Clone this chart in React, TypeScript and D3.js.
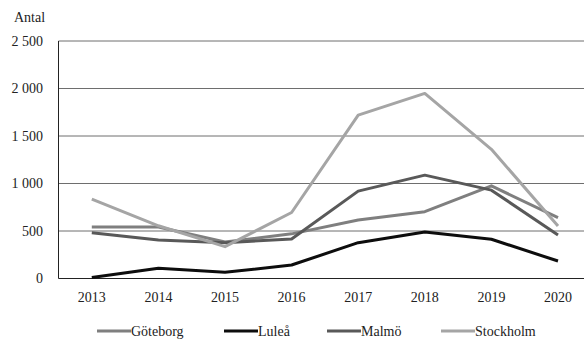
import React from "react";
import * as d3 from "d3";

const years = ["2013", "2014", "2015", "2016", "2017", "2018", "2019", "2020"];
const seriesNames = ["Göteborg", "Luleå", "Malmö", "Stockholm"];
const goteborg = [542, 542, 385, 470, 615, 703, 975, 640];
const lulea = [10, 107, 65, 142, 377, 490, 413, 184];
const malmo = [482, 405, 377, 415, 920, 1088, 930, 458];
const stockholm = [835, 555, 335, 695, 1720, 1948, 1360, 553];
const yTicks = [0, 500, 1000, 1500, 2000, 2500];
const colors = ["#7f7f7f", "#0d0d0d", "#595959", "#a5a5a5"];

const W = 584;
const H = 345;
const textStyle: React.CSSProperties = {
  fontFamily: '"Liberation Serif", "DejaVu Serif", serif',
  fontSize: 14,
  fill: "#222",
};

export default function App() {
  const data = [goteborg, lulea, malmo, stockholm];
  const left = 58.5;
  const x = d3.scaleBand<string>().domain(years).range([left, left + 8 * 66.6]);
  const y = d3.scaleLinear().domain([0, 2500]).range([278.5, 41]);
  const fmt = (v: number) => d3.format(",")(v).replace(/,/g, " ");
  const line = d3
    .line<number>()
    .x((_, i) => (x(years[i]) as number) + x.bandwidth() / 2)
    .y((v) => y(v));
  const legendX = [97, 224, 327, 441];

  return (
    <svg
      width={W}
      height={H}
      style={{ position: "absolute", left: 0, top: 0, background: "#fff" }}
    >
      <text x={14} y={22} style={textStyle}>
        Antal
      </text>
      {yTicks.map((t) => (
        <g key={t}>
          <line
            x1={left}
            x2={W}
            y1={y(t)}
            y2={y(t)}
            stroke={t === 0 ? "#222" : "#6e6e6e"}
            strokeWidth={1}
          />
          <text x={43} y={y(t) + 4.5} textAnchor="end" style={textStyle}>
            {fmt(t)}
          </text>
        </g>
      ))}
      <line x1={left} x2={left} y1={y(2500)} y2={y(0)} stroke="#222" strokeWidth={1} />
      {years.map((yr) => (
        <text
          key={yr}
          x={(x(yr) as number) + x.bandwidth() / 2}
          y={302}
          textAnchor="middle"
          style={textStyle}
        >
          {yr}
        </text>
      ))}
      {data.map((d, i) => (
        <path
          key={seriesNames[i]}
          d={line(d) as string}
          fill="none"
          stroke={colors[i]}
          strokeWidth={3}
          strokeLinejoin="round"
        />
      ))}
      {seriesNames.map((n, i) => (
        <g key={n}>
          <line
            x1={legendX[i]}
            x2={legendX[i] + 34}
            y1={331}
            y2={331}
            stroke={colors[i]}
            strokeWidth={3}
          />
          <text x={legendX[i] + 34} y={336} style={textStyle}>
            {n}
          </text>
        </g>
      ))}
    </svg>
  );
}
